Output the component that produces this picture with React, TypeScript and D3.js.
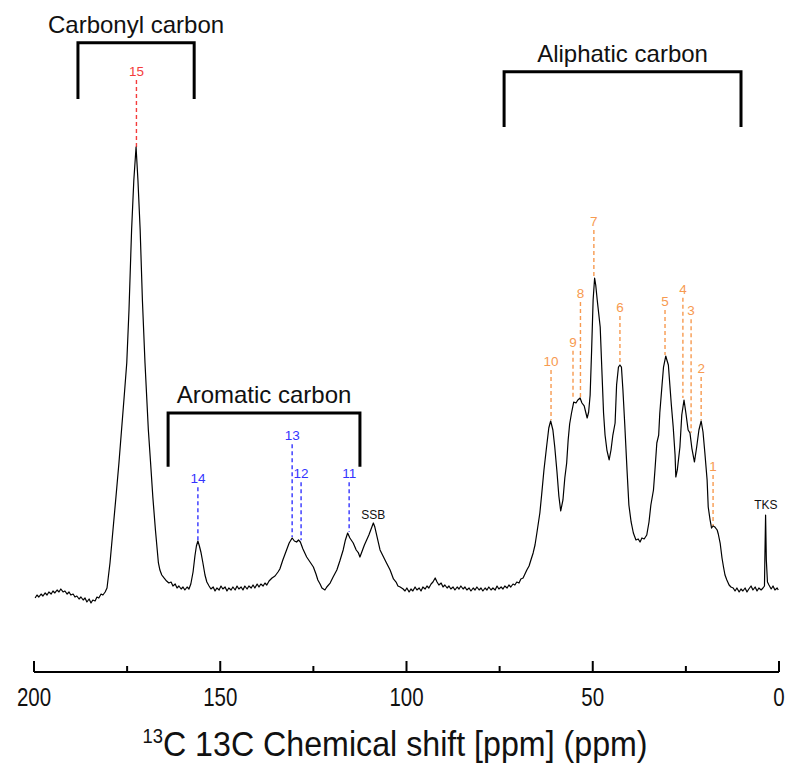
import React from "react";
import * as d3 from "d3";

const WIDTH = 789;
const HEIGHT = 765;

// 13C CP/MAS spectrum: [chemical shift (ppm), intensity (a.u., carbonyl peak = 100)]
const spectrum: [number, number][] = [
  [199.7, 0.44], [199.2, 1.1], [198.7, 0.66], [198.1, 1.32], [197.6, 0.88], [197.0, 1.55],
  [196.5, 1.1], [196.0, 1.77], [195.4, 1.32], [194.9, 1.99], [194.4, 1.55], [193.8, 2.21],
  [193.3, 1.77], [192.8, 2.43], [192.2, 1.77], [191.7, 1.99], [191.1, 1.32], [190.6, 1.77],
  [190.1, 1.1], [189.5, 1.32], [189.0, 0.66], [188.5, 0.88], [187.9, 0.22], [187.4, 0.66],
  [186.8, 0.0], [186.3, 0.44], [185.8, -0.44], [185.2, 0.22], [184.7, -0.66], [184.2, 0.0],
  [183.6, -0.22], [183.1, 0.66], [182.6, 0.44], [182.0, 1.32], [181.5, 1.1], [180.9, 1.77],
  [180.4, 2.65], [179.6, 8.17], [178.8, 15.45], [178.0, 22.74], [177.2, 30.24], [176.5, 37.53],
  [175.8, 44.81], [175.1, 52.32], [174.5, 64.02], [173.8, 81.68], [173.2, 92.72], [172.6, 100],
  [172.1, 92.72], [171.5, 81.68], [170.9, 66.23], [170.2, 52.32], [169.3, 37.53], [168.7, 30.24],
  [168.1, 22.74], [167.4, 15.45], [166.6, 8.17], [166.2, 6.62], [165.7, 5.52], [165.1, 4.86],
  [164.4, 4.19], [163.8, 3.75], [163.2, 3.97], [162.7, 3.09], [162.1, 3.53], [161.6, 2.65],
  [161.1, 3.09], [160.5, 2.43], [160.0, 2.87], [159.5, 2.21], [158.9, 2.87], [158.4, 2.43],
  [157.9, 3.53], [157.3, 6.18], [156.8, 9.71], [156.4, 11.92], [156.0, 13.02], [155.6, 11.92],
  [155.2, 10.6], [154.7, 8.39], [154.1, 5.52], [153.6, 3.97], [153.0, 3.09], [152.5, 2.43],
  [151.9, 2.87], [151.4, 1.99], [150.9, 2.65], [150.3, 2.21], [149.8, 3.09], [149.3, 2.43],
  [148.7, 2.87], [148.2, 1.99], [147.7, 2.65], [147.1, 2.21], [146.6, 2.87], [146.0, 2.21],
  [145.5, 3.09], [145.0, 2.43], [144.4, 2.87], [143.9, 2.21], [143.4, 3.09], [142.8, 2.43],
  [142.3, 3.09], [141.7, 2.65], [141.2, 3.31], [140.7, 2.65], [140.1, 3.53], [139.6, 2.87],
  [139.1, 3.53], [138.5, 3.09], [138.0, 3.75], [137.5, 3.31], [136.9, 4.19], [136.1, 4.86],
  [135.3, 5.3], [134.5, 6.18], [134.0, 6.84], [133.2, 8.83], [132.2, 11.04], [131.5, 12.58],
  [130.7, 13.69], [130.1, 13.02], [129.5, 12.8], [129.0, 13.25], [128.5, 12.8], [127.8, 11.26],
  [126.8, 9.49], [125.9, 8.39], [125.0, 7.28], [124.3, 5.74], [123.8, 4.42], [123.2, 3.53],
  [122.7, 2.65], [121.9, 2.21], [121.4, 2.87], [120.5, 3.75], [119.7, 5.08], [118.7, 6.62],
  [117.9, 8.61], [117.0, 11.04], [116.4, 13.25], [115.8, 14.79], [115.2, 13.69], [114.3, 12.58],
  [113.5, 11.04], [112.9, 10.38], [112.5, 9.49], [111.8, 11.04], [111.3, 12.14], [110.7, 13.25],
  [110.1, 14.35], [109.6, 15.45], [108.9, 17.0], [108.5, 16.11], [107.9, 13.91], [107.1, 11.04],
  [106.3, 9.71], [105.5, 8.39], [104.4, 6.62], [103.5, 4.64], [102.8, 3.97], [102.3, 3.09],
  [101.7, 2.87], [100.9, 2.43], [100.4, 1.99], [99.9, 2.65], [99.3, 1.77], [98.8, 2.43],
  [98.3, 1.99], [97.7, 2.87], [97.2, 2.21], [96.6, 2.65], [96.1, 1.99], [95.6, 2.87],
  [95.0, 2.43], [94.5, 3.09], [94.0, 2.65], [93.4, 3.53], [92.9, 3.97], [92.3, 4.86],
  [91.8, 3.97], [91.3, 3.31], [90.7, 3.75], [90.2, 2.87], [89.7, 3.31], [89.1, 2.65],
  [88.6, 3.09], [88.1, 2.43], [87.5, 2.87], [87.0, 2.21], [86.4, 2.87], [85.9, 2.43],
  [85.4, 3.09], [84.8, 2.43], [84.3, 2.87], [83.8, 2.21], [83.2, 2.65], [82.7, 1.99],
  [82.1, 2.65], [81.6, 2.21], [81.1, 2.87], [80.5, 2.21], [80.0, 2.65], [79.5, 1.99],
  [78.9, 2.65], [78.4, 2.21], [77.9, 2.87], [77.3, 2.21], [76.8, 2.65], [76.2, 2.21],
  [75.7, 3.09], [75.2, 2.43], [74.6, 2.87], [74.1, 2.43], [73.6, 3.09], [73.0, 2.65],
  [72.5, 3.31], [72.0, 2.87], [71.4, 3.53], [70.9, 3.31], [70.4, 3.97], [69.8, 3.75],
  [69.3, 4.64], [68.7, 4.86], [68.2, 5.74], [67.7, 6.62], [67.1, 7.51], [66.6, 8.83],
  [66.0, 10.38], [65.5, 12.14], [65.0, 14.79], [64.2, 19.21], [63.7, 23.4], [63.1, 28.7],
  [62.4, 33.77], [61.8, 37.97], [61.3, 39.51], [60.7, 37.53], [60.2, 33.77], [59.6, 28.26],
  [59.1, 22.96], [58.6, 19.65], [58.0, 22.08], [57.5, 26.93], [57.0, 30.24], [56.6, 35.32],
  [56.2, 38.85], [55.7, 41.28], [55.1, 43.71], [54.5, 43.49], [54.0, 44.15], [53.4, 44.59],
  [52.9, 43.49], [52.3, 42.83], [51.9, 41.5], [51.5, 40.18], [51.1, 41.5], [50.7, 45.25],
  [50.3, 55.19], [49.9, 66.23], [49.5, 71.08], [49.2, 69.54], [48.8, 66.23], [48.0, 60.26],
  [47.5, 49.67], [47.1, 41.28], [46.7, 36.42], [46.2, 33.11], [45.6, 30.91], [45.1, 33.11],
  [44.6, 36.42], [44.0, 39.07], [43.6, 47.46], [43.1, 51.43], [42.7, 51.88], [42.3, 51.43],
  [41.9, 46.36], [41.4, 38.63], [40.8, 28.7], [40.3, 20.97], [39.7, 17.22], [39.1, 14.79],
  [38.4, 13.25], [37.8, 13.47], [37.3, 12.8], [36.8, 13.69], [36.2, 13.47], [35.5, 14.35],
  [34.9, 17.22], [34.4, 20.97], [33.7, 24.28], [33.3, 28.7], [32.8, 34.66], [32.3, 36.42],
  [32.0, 41.28], [31.4, 47.46], [31.0, 51.43], [30.4, 53.86], [30.1, 52.98], [29.7, 51.88],
  [29.3, 47.46], [28.9, 43.05], [28.4, 38.19], [27.9, 32.01], [27.7, 27.15], [27.3, 28.7],
  [26.6, 33.77], [26.1, 40.84], [25.5, 44.15], [25.0, 41.28], [24.4, 37.53], [23.9, 36.87],
  [23.4, 33.55], [22.7, 30.46], [22.1, 33.77], [21.5, 37.53], [20.9, 39.51], [20.4, 37.09],
  [19.9, 32.45], [19.3, 26.49], [19.0, 20.53], [18.5, 17.66], [18.1, 15.89], [17.7, 16.34],
  [17.2, 16.11], [16.6, 15.45], [16.3, 14.57], [15.8, 12.58], [15.3, 9.27], [14.9, 7.28],
  [14.5, 5.52], [14.0, 4.42], [13.4, 3.31], [12.9, 2.87], [12.3, 2.65], [11.8, 1.99],
  [11.3, 2.65], [10.7, 1.77], [10.2, 2.43], [9.7, 1.99], [9.1, 2.65], [8.6, 1.77],
  [8.1, 2.43], [7.5, 3.09], [7.0, 2.21], [6.4, 2.87], [5.9, 1.99], [5.4, 2.65],
  [4.8, 2.21], [4.3, 2.65], [3.9, 3.09], [3.8, 8.83], [3.6, 18.76], [3.4, 8.83],
  [3.1, 3.97], [2.7, 3.31], [2.1, 2.43], [1.6, 3.09], [1.1, 2.21], [0.5, 2.65], [0.2, 2.21],
];

// Assigned carbon peaks
const peakNames = ["15", "14", "13", "12", "11", "10", "9", "8", "7", "6", "5", "4", "3", "2", "1"];
const peakShift = [172.5, 156.0, 130.7, 128.3, 115.4, 61.2, 55.3, 53.3, 49.7, 42.7, 30.6, 25.8, 23.6, 20.9, 17.7];
const peakHeight = [100, 13.2, 13.9, 13.2, 15.0, 39.7, 44.2, 44.6, 71.5, 52.3, 54.1, 44.6, 36.9, 39.7, 16.3];
const peakLabelLevel = [114.8, 24.9, 34.4, 26.0, 26.0, 50.8, 55.0, 65.8, 81.7, 62.7, 64.0, 66.7, 62.0, 49.2, 27.6];
const peakGroup = ["carbonyl", "aromatic", "aromatic", "aromatic", "aromatic", "aliphatic", "aliphatic", "aliphatic", "aliphatic", "aliphatic", "aliphatic", "aliphatic", "aliphatic", "aliphatic", "aliphatic"];

// Unassigned signals: spinning sideband and TKS reference
const otherNames = ["SSB", "TKS"];
const otherShift = [108.9, 3.5];
const otherLevel = [17.9, 20.0];

// Chemical shift regions
const regionNames = ["Carbonyl carbon", "Aromatic carbon", "Aliphatic carbon"];
const regionFrom = [188.2, 164.0, 73.8];
const regionTo = [157.0, 112.5, 10.2];
const regionTop = [123.0, 41.3, 116.6];
const regionBottom = [110.6, 29.4, 104.4];

const majorTicks = [200, 150, 100, 50, 0];
const minorTicks = [175, 125, 75, 25];

const groupColor: Record<string, string> = {
  carbonyl: "#f43c3c",
  aromatic: "#3434ff",
  aliphatic: "#f79a50",
};

export default function App() {
  const x = d3.scaleLinear().domain([200, 0]).range([34, 779]);
  const y = d3.scaleLinear().domain([0, 100]).range([600, 147]);
  const axisY = 672;

  const line = d3
    .line<[number, number]>()
    .x((d) => x(d[0]))
    .y((d) => y(d[1]));

  const sans = "'Liberation Sans', Arial, sans-serif";

  return (
    <svg
      width={WIDTH}
      height={HEIGHT}
      viewBox={`0 0 ${WIDTH} ${HEIGHT}`}
      style={{ position: "absolute", left: 0, top: 0, background: "#fff" }}
    >
      <rect width={WIDTH} height={HEIGHT} fill="#fff" />

      {/* region brackets */}
      {regionNames.map((name, i) => {
        const x0 = x(regionFrom[i]);
        const x1 = x(regionTo[i]);
        const yt = y(regionTop[i]);
        const yb = y(regionBottom[i]);
        return (
          <g key={name}>
            <path
              d={`M${x0},${yb}V${yt}H${x1}V${yb}`}
              fill="none"
              stroke="#000"
              strokeWidth={3}
            />
            <text
              x={(x0 + x1) / 2}
              y={yt - 10}
              textAnchor="middle"
              fontFamily={sans}
              fontSize={24}
              fill="#111"
            >
              {name}
            </text>
          </g>
        );
      })}

      {/* peak assignments */}
      {peakNames.map((name, i) => {
        const px = x(peakShift[i]);
        const color = groupColor[peakGroup[i]];
        return (
          <g key={name}>
            <line
              x1={px}
              x2={px}
              y1={y(peakLabelLevel[i])}
              y2={y(peakHeight[i])}
              stroke={color}
              strokeWidth={1.4}
              strokeDasharray="4,3"
            />
            <text
              x={px}
              y={y(peakLabelLevel[i]) - 4}
              textAnchor="middle"
              fontFamily={sans}
              fontSize={13.5}
              fill={color}
            >
              {name}
            </text>
          </g>
        );
      })}

      {otherNames.map((name, i) => (
        <text
          key={name}
          x={x(otherShift[i])}
          y={y(otherLevel[i])}
          textAnchor="middle"
          fontFamily={sans}
          fontSize={12}
          fill="#111"
        >
          {name}
        </text>
      ))}

      {/* spectrum */}
      <path d={line(spectrum) ?? ""} fill="none" stroke="#000" strokeWidth={1.2} strokeLinejoin="round" />

      {/* chemical shift axis */}
      <line x1={x(200)} x2={x(0)} y1={axisY} y2={axisY} stroke="#000" strokeWidth={2} />
      {majorTicks.map((t) => (
        <g key={`M${t}`}>
          <line x1={x(t)} x2={x(t)} y1={axisY} y2={axisY - 11} stroke="#000" strokeWidth={2} />
          <text
            transform={`translate(${x(t)},${axisY + 34}) scale(0.82,1)`}
            textAnchor="middle"
            fontFamily={sans}
            fontSize={25}
            fill="#111"
          >
            {t}
          </text>
        </g>
      ))}
      {minorTicks.map((t) => (
        <line key={`m${t}`} x1={x(t)} x2={x(t)} y1={axisY} y2={axisY - 6} stroke="#000" strokeWidth={2} />
      ))}

      <text
        transform={`translate(395,756) scale(0.92,1)`}
        textAnchor="middle"
        fontFamily={sans}
        fontSize={35}
        fill="#111"
      >
        <tspan fontSize={20} dy={-13}>13</tspan>
        <tspan dy={13}>C 13C Chemical shift [ppm] (ppm)</tspan>
      </text>
    </svg>
  );
}
